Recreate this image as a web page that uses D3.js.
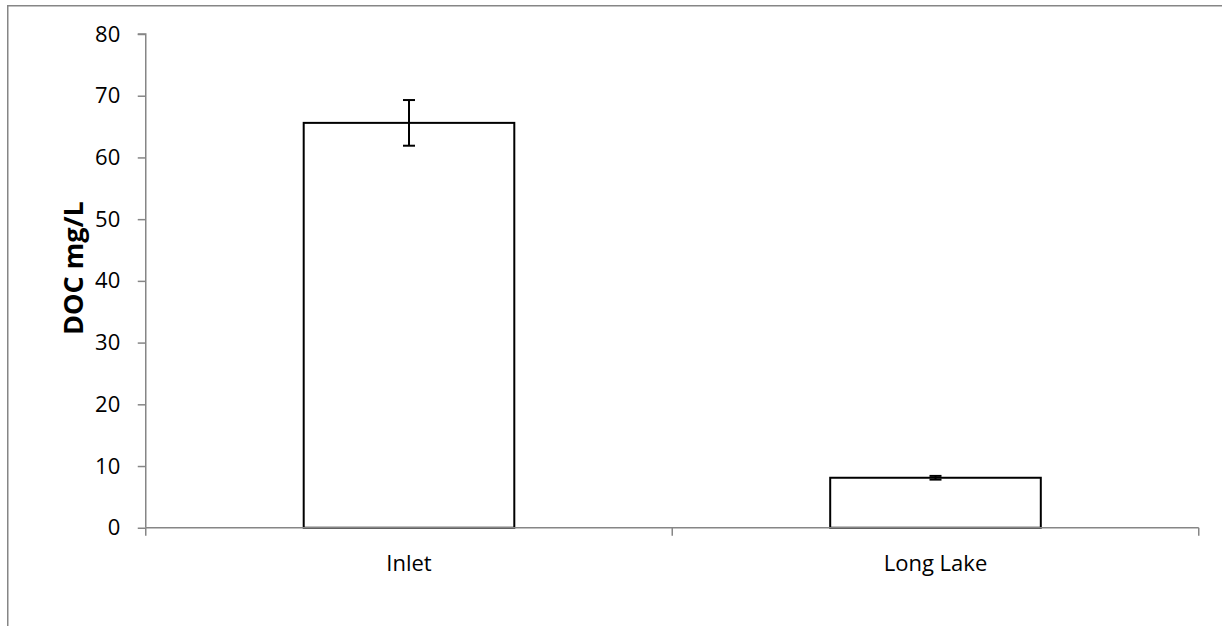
<!DOCTYPE html>
<html><head><meta charset="utf-8">
<script src="https://cdn.jsdelivr.net/npm/d3@7"></script>
<style>body{margin:0;background:#fff}svg{display:block}</style>
</head><body>
<script>
const categories = ["Inlet", "Long Lake"];
const values = [65.6, 8.1];
const errors = [3.7, 0.3];
const yTicks = [0, 10, 20, 30, 40, 50, 60, 70, 80];
const yLabel = "DOC mg/L";

(function () {
const W = 1222, H = 626;
const svg = d3.select("body").append("svg").attr("width", W).attr("height", H);
const font = "'Open Sans', sans-serif";

// frame
svg.append("path").attr("d", `M7.75,626 V5.75 H1222`).attr("fill", "none")
  .attr("stroke", "#868686").attr("stroke-width", 1.5);

const pL = 145.75, pR = 1198.75, pT = 34, pB = 527.75;
const x = d3.scaleBand().domain(categories).range([pL, pR]).padding(0);
const y = d3.scaleLinear().domain([0, 80]).range([pB, pT]);
const axisColor = "#868686";

// y axis
const ya = svg.append("g").attr("transform", `translate(${pL},0)`)
  .call(d3.axisLeft(y).tickValues(yTicks).tickSize(8).tickPadding(17.5).tickFormat(d3.format("d")));
ya.select(".domain").attr("stroke", axisColor).attr("stroke-width", 1.5).attr("d", `M-8,${pT}H0V${pB}`);
ya.selectAll(".tick line").attr("stroke", axisColor).attr("stroke-width", 1.5);
ya.selectAll(".tick text").attr("font-family", font).attr("font-size", 22).attr("fill", "#000");

// bars
const bw = x.bandwidth() * 0.4;
svg.selectAll("rect.bar").data(values).enter().append("rect")
  .attr("x", (d, i) => x(categories[i]) + x.bandwidth() / 2 - bw / 2)
  .attr("y", d => y(d))
  .attr("width", bw)
  .attr("height", d => pB - y(d))
  .attr("fill", "#fff").attr("stroke", "#000").attr("stroke-width", 2);

// x axis
const xa = svg.append("g").attr("transform", `translate(0,${pB})`);
xa.append("line").attr("x1", pL).attr("x2", pR).attr("stroke", axisColor).attr("stroke-width", 1.5);
const bounds = [pL, ...categories.map(c => x(c) + x.bandwidth())];
xa.selectAll("line.tk").data(bounds).enter().append("line")
  .attr("x1", d => d).attr("x2", d => d).attr("y1", 0).attr("y2", 8)
  .attr("stroke", axisColor).attr("stroke-width", 1.5);
xa.selectAll("text").data(categories).enter().append("text")
  .attr("x", d => x(d) + x.bandwidth() / 2).attr("y", 43.5)
  .attr("text-anchor", "middle")
  .attr("font-family", font).attr("font-size", 22).attr("fill", "#000").text(d => d);

// error bars
const cap = 6;
const eb = svg.selectAll("g.err").data(values).enter().append("g")
  .attr("transform", (d, i) => `translate(${x(categories[i]) + x.bandwidth() / 2},0)`);
eb.append("line").attr("y1", (d, i) => y(d + errors[i])).attr("y2", (d, i) => y(d - errors[i]))
  .attr("stroke", "#000").attr("stroke-width", 2);
eb.append("line").attr("x1", -cap).attr("x2", cap).attr("y1", (d, i) => y(d + errors[i])).attr("y2", (d, i) => y(d + errors[i]))
  .attr("stroke", "#000").attr("stroke-width", 2);
eb.append("line").attr("x1", -cap).attr("x2", cap).attr("y1", (d, i) => y(d - errors[i])).attr("y2", (d, i) => y(d - errors[i]))
  .attr("stroke", "#000").attr("stroke-width", 2);

// y label
svg.append("text").attr("transform", `translate(83,335) rotate(-90)`)
  .attr("text-anchor", "start").attr("font-family", font).attr("font-weight", "bold")
  .attr("font-size", 27).text(yLabel);
})();
</script>
</body></html>
